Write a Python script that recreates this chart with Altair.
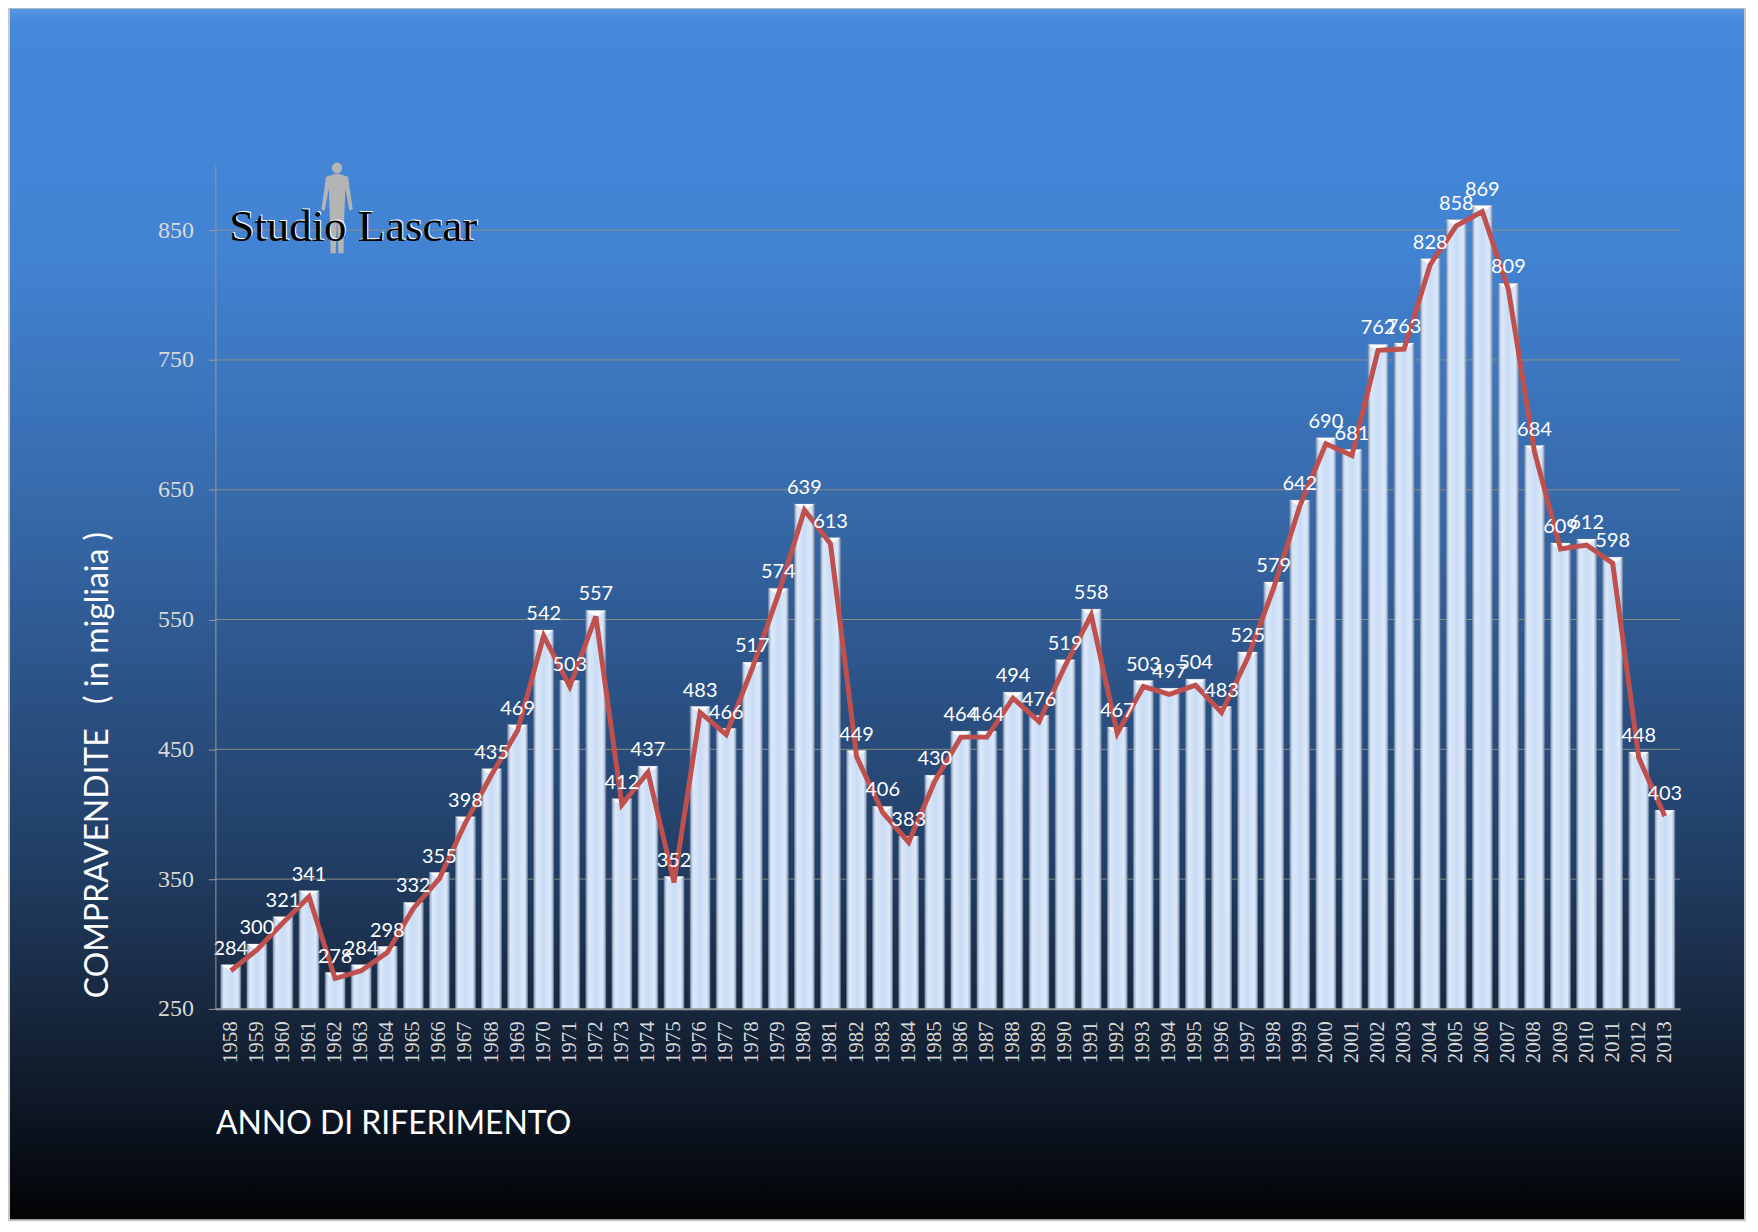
import altair as alt
import pandas as pd

years = [str(y) for y in range(1958, 2014)]
values = [284, 300, 321, 341, 278, 284, 298, 332, 355, 398,
          435, 469, 542, 503, 557, 412, 437, 352, 483, 466,
          517, 574, 639, 613, 449, 406, 383, 430, 464, 464,
          494, 476, 519, 558, 467, 503, 497, 504, 483, 525,
          579, 642, 690, 681, 762, 763, 828, 858, 869, 809,
          684, 609, 612, 598, 448, 403]
tick_values = [250, 350, 450, 550, 650, 750, 850]

W, H = 1469, 846

df = pd.DataFrame({"year": years, "value": values})
grid_df = pd.DataFrame({"value": tick_values})
one = pd.DataFrame({"a": [0]})

NB = "\u00a0"
y_title = "COMPRAVENDITE" + NB * 3 + "(" + NB + "in migliaia" + NB + ")"

x_enc = alt.X("year:O", sort=years,
              scale=alt.Scale(paddingInner=0.24, paddingOuter=0.21),
              axis=alt.Axis(labelAngle=-90, labelFont="Liberation Serif", labelFontSize=21,
                            labelColor="#d9d9d9", labelPadding=12, ticks=False,
                            domainColor="#9a9a9a", domainWidth=2,
                            titleFont="Lato", titleFontSize=32, titleFontWeight="normal",
                            titleColor="white", titleX=0, titleY=115, titleAnchor="start",
                            titleAlign="left", titleBaseline="middle", zindex=1),
              title="ANNO DI RIFERIMENTO")
y_enc = alt.Y("value:Q",
              scale=alt.Scale(domain=[250, 900], nice=False, zero=False),
              axis=alt.Axis(values=tick_values, grid=False, labelFont="Liberation Serif",
                            labelFontSize=24, labelColor="#d9d9d9", labelPadding=15,
                            tickSize=7, tickColor="#9a9a9a", domainColor="#9a9a9a",
                            titleFont="Lato", titleFontSize=32, titleFontWeight="normal",
                            titleColor="white", titleAngle=-90, titleX=-118, titleY=601,
                            titleAlign="center", titleBaseline="middle", zindex=1),
              title=y_title)

bg_grad = alt.LinearGradient(
    gradient="linear", x1=0, x2=0, y1=0, y2=1,
    stops=[alt.GradientStop(offset=0, color="#5a9ae6"),
           alt.GradientStop(offset=0.012, color="#4488da"),
           alt.GradientStop(offset=0.2, color="#4283d3"),
           alt.GradientStop(offset=0.4, color="#376bac"),
           alt.GradientStop(offset=0.55, color="#2c5489"),
           alt.GradientStop(offset=0.7, color="#213f66"),
           alt.GradientStop(offset=0.82, color="#18283f"),
           alt.GradientStop(offset=0.92, color="#0c1421"),
           alt.GradientStop(offset=1, color="#020304")])

bar_grad = alt.LinearGradient(
    gradient="linear", x1=0, x2=1, y1=0, y2=0,
    stops=[alt.GradientStop(offset=0, color="#8d9fba"),
           alt.GradientStop(offset=0.15, color="#dbe8fa"),
           alt.GradientStop(offset=0.5, color="#c9dcf5"),
           alt.GradientStop(offset=0.85, color="#dbe8fa"),
           alt.GradientStop(offset=1, color="#8d9fba")])

bg = alt.Chart(one).mark_rect(fill=bg_grad, stroke="#c8c8c8", strokeWidth=2).encode(
    x=alt.value(-207), x2=alt.value(1534), y=alt.value(-158), y2=alt.value(1058))

grid = alt.Chart(grid_df).mark_rule(color="#8e8e84", strokeWidth=1).encode(
    y=y_enc, x=alt.value(0), x2=alt.value(W))

bars = alt.Chart(df).mark_bar(fill=bar_grad, stroke="#7d8ca3", strokeWidth=0.6).encode(
    x=x_enc, y=y_enc, y2=alt.datum(250))

tops = alt.Chart(df).mark_point(shape="M -1 0 L 1 0 L 0 0.7 Z", size=380, filled=True,
                                color="white", opacity=0.95).encode(x=x_enc, y=y_enc)

line = alt.Chart(df).mark_line(color="#c0504d", strokeWidth=5, yOffset=6).encode(
    x=x_enc, y=y_enc)

labels = alt.Chart(df).mark_text(color="white", font="Lato", fontSize=20, dy=-10,
                                 baseline="alphabetic").encode(
    x=x_enc, y=y_enc, text="value:Q")

figure_path = ("M -0.05 -0.72 L 0.05 -0.72 L 0.24 -0.66 L 0.34 0.05 L 0.27 0.08 L 0.18 -0.4 "
               "L 0.16 0.1 L 0.14 1 L 0.03 1 L 0 0.2 L -0.03 1 L -0.14 1 L -0.16 0.1 "
               "L -0.18 -0.4 L -0.27 0.08 L -0.34 0.05 L -0.24 -0.66 Z "
               "M -0.11 -0.85 A 0.11 0.12 0 1 1 0.11 -0.85 A 0.11 0.12 0 1 1 -0.11 -0.85 Z")
figure = alt.Chart(one).mark_point(shape=figure_path, size=8500, filled=True,
                                   color="#b4b4b4", opacity=1).encode(
    x=alt.value(122), y=alt.value(42))

logo_hi = alt.Chart(one).mark_text(text="Studio Lascar", font="Liberation Serif", fontSize=45,
                                   align="left", baseline="alphabetic", fill="white").encode(
    x=alt.value(15), y=alt.value(75))
logo = alt.Chart(one).mark_text(text="Studio Lascar", font="Liberation Serif", fontSize=45,
                                align="left", baseline="alphabetic", fill="black").encode(
    x=alt.value(14), y=alt.value(76))

chart = alt.layer(bg, grid, bars, tops, line, labels, figure, logo_hi, logo).properties(
    width=W, height=H,
    autosize=alt.AutoSizeParams(type="none"),
    padding={"left": 208, "top": 156, "right": 70, "bottom": 216},
).configure_view(stroke=None)

chart.save("out.html", embed_options={"renderer": "svg", "actions": False})
